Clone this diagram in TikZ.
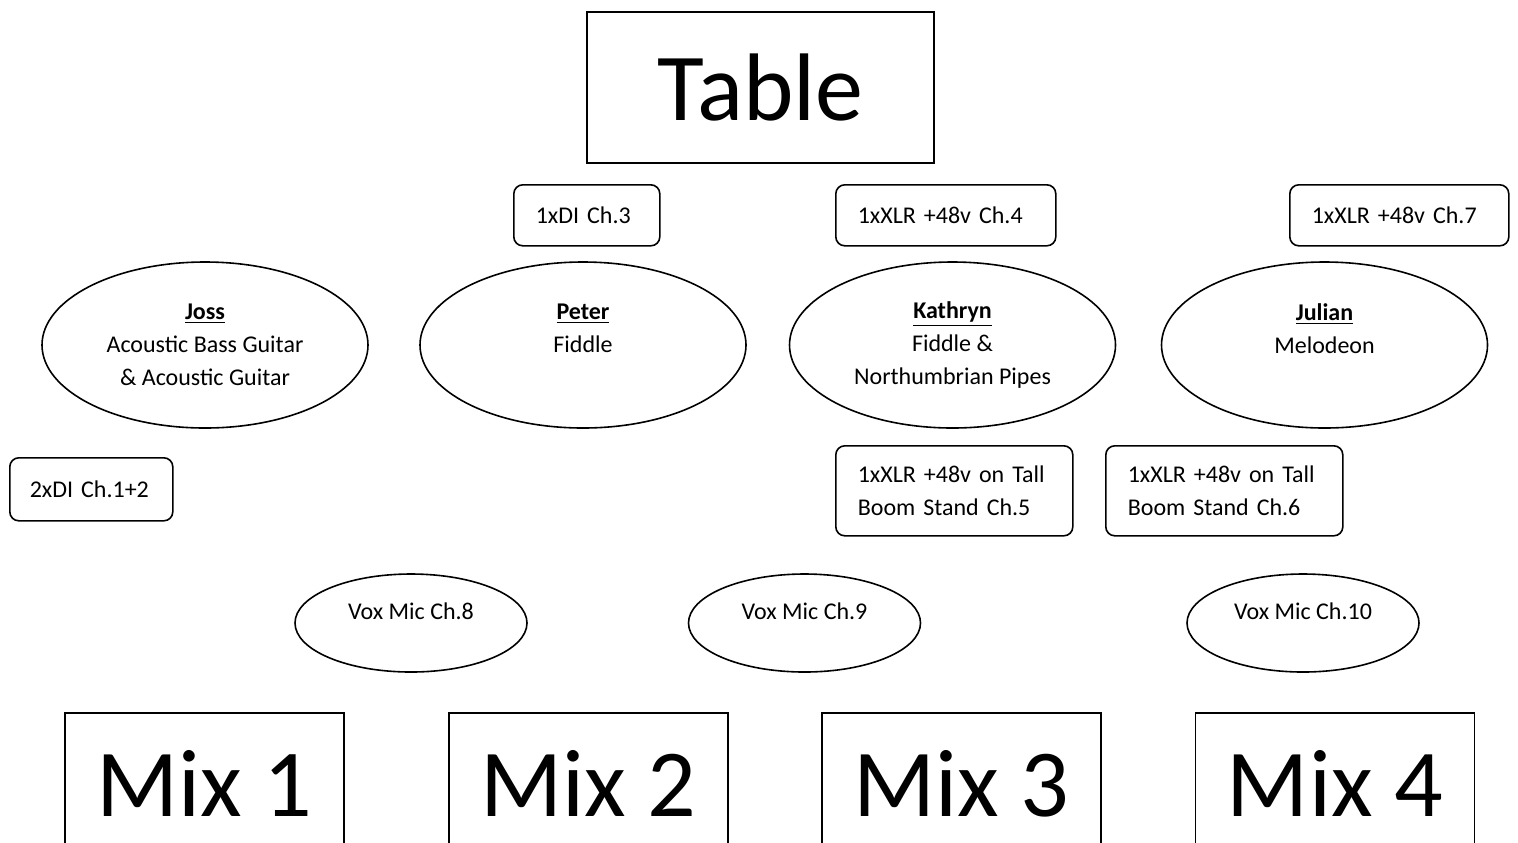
\documentclass[tikz,border=0pt]{standalone}
\usepackage{fontspec}
\setmainfont{Carlito}
\usepackage{tikz}
\usetikzlibrary{shapes,positioning}
\newcommand{\chfont}{\fontsize{12}{16.5}\selectfont}
\newcommand{\bigfont}{\fontsize{48}{58}\selectfont}
\tikzstyle{plain box}=[draw, line width=0.8pt, font=\bigfont, inner sep=0pt]
\tikzstyle{mix box}=[plain box, anchor=north, minimum width=139.5pt, minimum height=71pt]
\tikzstyle{channel}=[draw, rounded corners=4.5pt, line width=0.8pt, font=\chfont, align=left, inner xsep=11pt, inner ysep=0pt, anchor=north west]
\tikzstyle{player}=[draw, ellipse, line width=0.8pt, font=\chfont, align=center, inner sep=0pt, minimum width=163pt, minimum height=83pt]
\tikzstyle{vox}=[player, minimum width=116pt, minimum height=49pt, text height=8pt, text depth=12pt]

\begin{document}
\begin{tikzpicture}[x=0.5pt, y=-0.5pt]
  \useasboundingbox (0,0) rectangle (1518,842);

  \node[plain box, minimum width=173.5pt, minimum height=75.5pt] (table) at (760.5,87.5) {Table};

  % channel boxes
  \node[channel, text width=51pt, minimum height=30.5pt] (di3) at (513,184) {1xDI Ch.3};
  \node[channel, text width=88pt, minimum height=30.5pt] (xlr4) at (835,184) {1xXLR +48v Ch.4};
  \node[channel, text width=87.5pt, minimum height=30.5pt] (xlr7) at (1289,184) {1xXLR +48v Ch.7};
  \node[channel, inner xsep=10pt, text width=61.5pt, minimum height=31.5pt] (di12) at (9,457) {\mbox{2xDI Ch.1+2}};
  \node[channel, text width=96.5pt, minimum height=45pt] (xlr5) at (835,445) {1xXLR +48v on Tall\\Boom Stand Ch.5};
  \node[channel, text width=96.5pt, minimum height=45pt] (xlr6) at (1105,445) {1xXLR +48v on Tall\\Boom Stand Ch.6};

  % players
  \node[player] (joss) at (205,345) {\underline{\textbf{Joss}}\\Acoustic Bass Guitar\\\& Acoustic Guitar};
  \node[player] (peter) at (583,345) {\underline{\textbf{Peter}}\\Fiddle\\\mbox{}};
  \node[player] (kathryn) at (952.5,345) {\underline{\textbf{Kathryn}}\\Fiddle \&\\Northumbrian Pipes};
  \node[player] (julian) at (1324.5,345) {\underline{\textbf{Julian}}\\Melodeon\\\mbox{}};

  % vocal mics
  \node[vox] (vox8) at (411,623) {Vox Mic Ch.8};
  \node[vox] (vox9) at (804.5,623) {Vox Mic Ch.9};
  \node[vox] (vox10) at (1303,623) {Vox Mic Ch.10};

  % monitor mixes
  \node[mix box] (mix1) at (204.5,712) {Mix 1};
  \node[mix box] (mix2) at (588.5,712) {Mix 2};
  \node[mix box] (mix3) at (961.5,712) {Mix 3};
  \node[mix box] (mix4) at (1335,712) {Mix 4};
\end{tikzpicture}
\end{document}
